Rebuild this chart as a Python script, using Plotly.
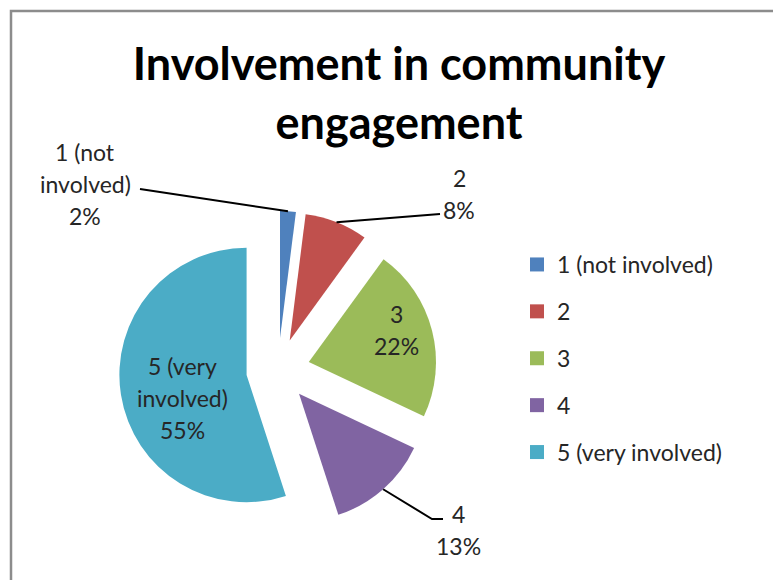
import math
import plotly.graph_objects as go

# Survey responses: involvement in community engagement
categories = ["1 (not involved)", "2", "3", "4", "5 (very involved)"]
values = [2, 8, 22, 13, 55]
slice_labels = ["1 (not<br>involved)", "2", "3", "4", "5 (very<br>involved)"]
colors = ["#4F81BD", "#C0504D", "#9BBB59", "#8064A2", "#4BACC6"]

W, H = 773, 580
FONT = "Lato"
TEXT = "#262626"
FS = 23
PULL = 0.25

# pie box in pixels (centre and half-size)
cx, cy, half = 278, 370, 159
dom_x = [(cx - half) / W, (cx + half) / W]
dom_y = [1 - (cy + half) / H, 1 - (cy - half) / H]
radius = half / (1 + PULL)

fig = go.Figure()
fig.add_trace(go.Pie(
    labels=categories, values=values, sort=False, direction="clockwise",
    rotation=0, marker=dict(colors=colors, line=dict(width=0)),
    pull=[PULL] * len(values), textinfo="none", hoverinfo="label+percent",
    showlegend=False, domain=dict(x=dom_x, y=dom_y),
))

# legend entries, one group each so the gap between them can be set
for name, col in zip(categories, colors):
    fig.add_trace(go.Scatter(
        x=[None], y=[None], mode="markers", name=name, legendgroup=name,
        marker=dict(symbol="square", size=14, color=col),
    ))

total = sum(values)
pcts = [v / total for v in values]
starts = [sum(pcts[:i]) for i in range(len(pcts))]
mids = [2 * math.pi * (s + p / 2) for s, p in zip(starts, pcts)]


def px(x, y):
    return x / W, 1 - y / H


def tip(i, extra=0.0):
    """Point on the outer arc of exploded slice i, at its mid angle."""
    r = radius * (1 + PULL) + extra
    return cx + r * math.sin(mids[i]), cy - r * math.cos(mids[i])


annotations = []


def add_label(i, x, y_first, spacing=32):
    lines = slice_labels[i].split("<br>") + [f"{round(pcts[i] * 100)}%"]
    for k, line in enumerate(lines):
        ax, ay = px(x, y_first + k * spacing)
        annotations.append(dict(
            x=ax, y=ay, xref="paper", yref="paper", text=line, showarrow=False,
            xanchor="center", yanchor="middle",
            font=dict(family=FONT, size=FS, color=TEXT),
        ))


# label placement (pixel centres of first line)
add_label(0, 85, 152)
add_label(1, 459, 178)
add_label(2, 397, 314)
add_label(3, 458, 514)
add_label(4, 182, 366)

shapes = []


def leader(points):
    path = ""
    for k, (x, y) in enumerate(points):
        u, v = px(x, y)
        path += ("M" if k == 0 else "L") + f"{u},{v} "
    shapes.append(dict(type="path", xref="paper", yref="paper", path=path,
                       line=dict(color="#000000", width=2)))


leader([(140, 189), tip(0, 0)])
leader([tip(1, 0), (440, 214)])
leader([tip(3, 0), (432, 519), (443, 519)])

# chart border (left and top edges)
shapes.append(dict(type="path", xref="paper", yref="paper",
                   path=f"M{11/W},-0.05 L{11/W},{1-11/H} L1.05,{1-11/H}",
                   line=dict(color="#8C8C8C", width=2.5)))

fig.update_layout(
    width=W, height=H,
    margin=dict(l=0, r=0, t=0, b=0),
    paper_bgcolor="white", plot_bgcolor="white",
    title=dict(text="<b>Involvement in community<br>engagement</b>",
               x=399 / W, xanchor="center", y=1 - 80 / H, yanchor="top",
               font=dict(family=FONT, size=45, color="#000000")),
    xaxis=dict(visible=False), yaxis=dict(visible=False),
    legend=dict(x=517 / W, xanchor="left", y=1 - 243 / H, yanchor="top",
                tracegroupgap=14, font=dict(family=FONT, size=FS, color=TEXT),
                bgcolor="rgba(0,0,0,0)"),
    annotations=annotations, shapes=shapes,
)

fig.write_html("out.html")
